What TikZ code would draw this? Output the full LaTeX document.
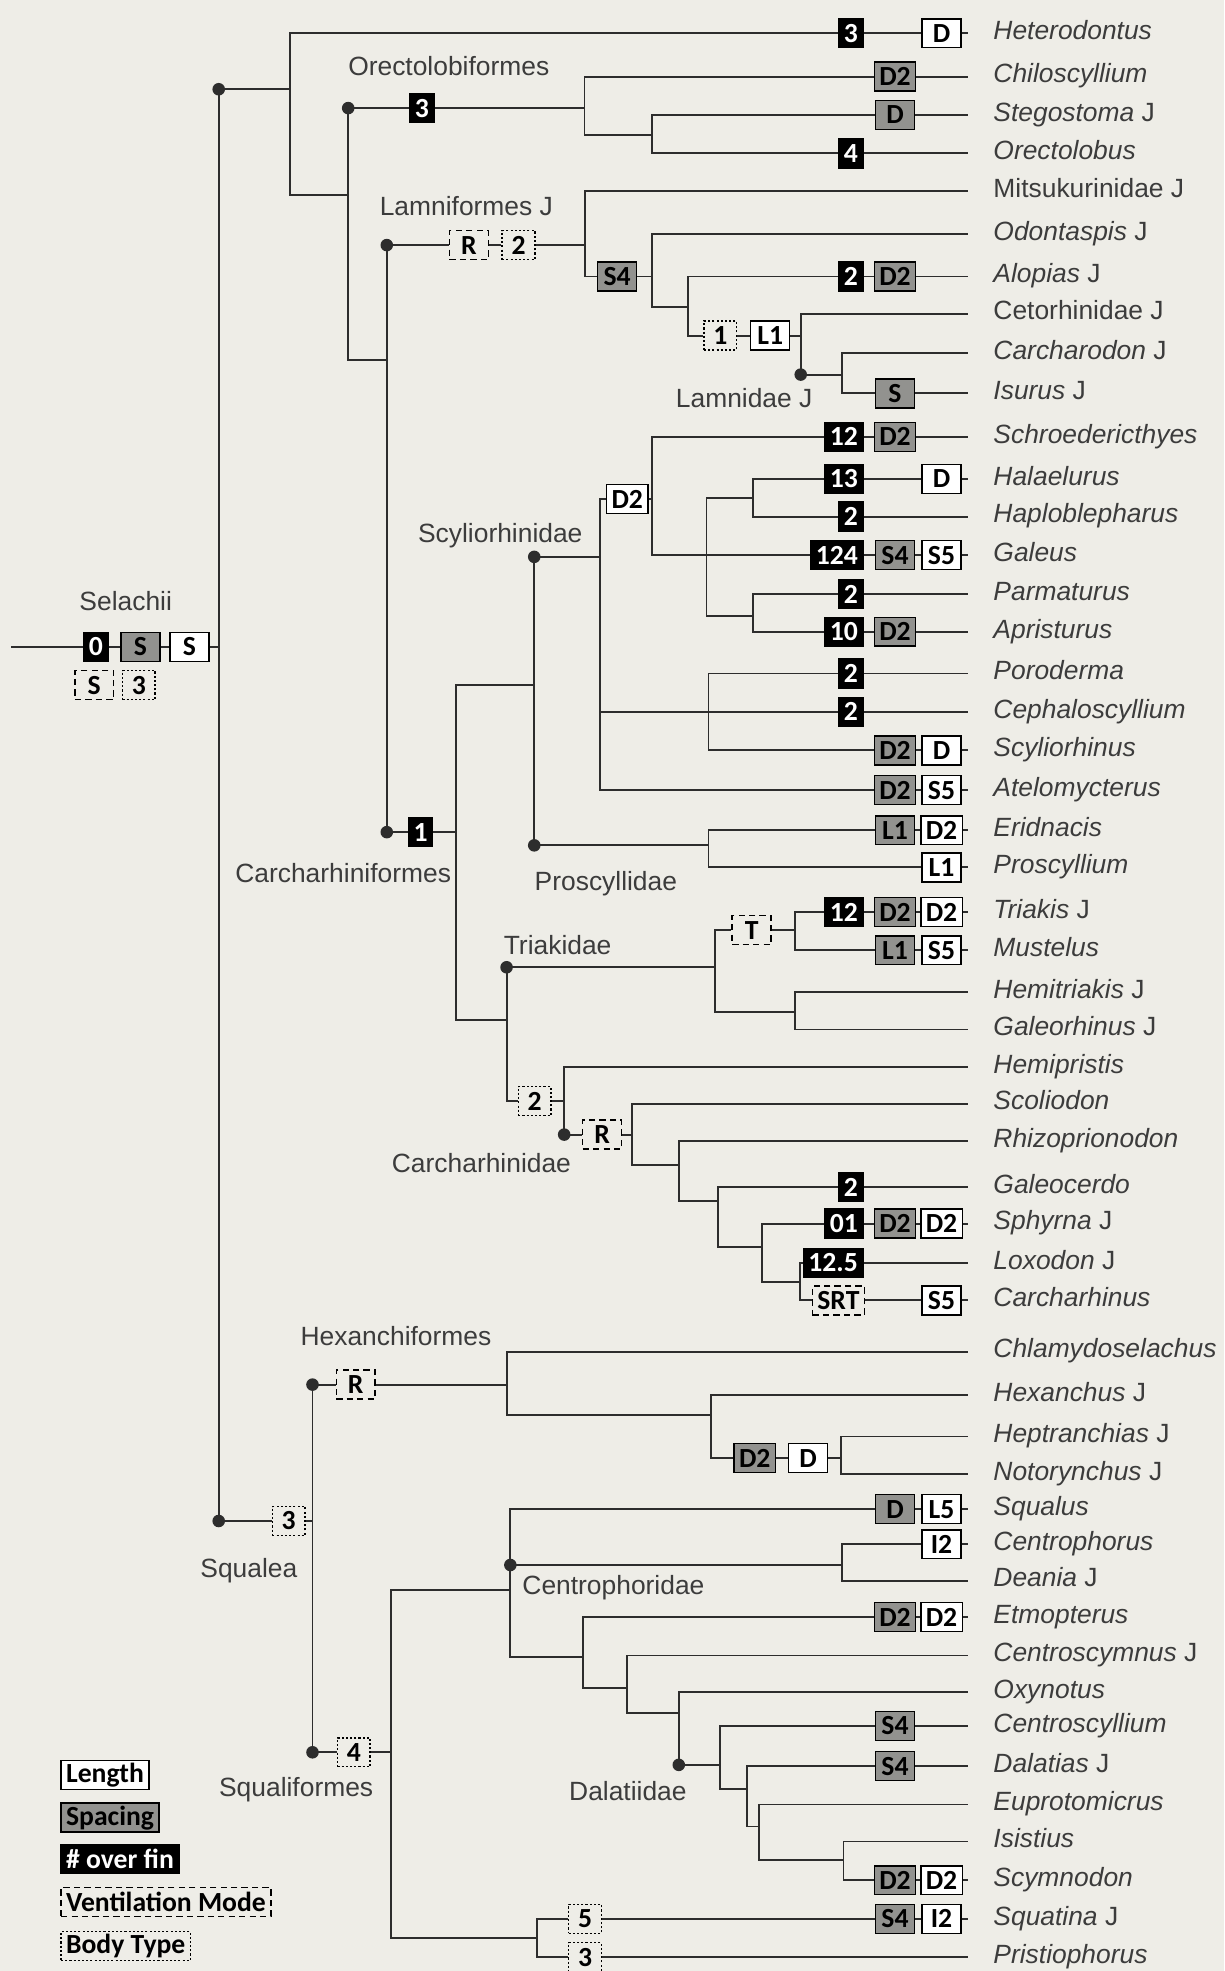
\documentclass[tikz,border=0pt]{standalone}
\usepackage{fontspec}
\setmainfont{Liberation Sans}
\newfontfamily\boxfont{Carlito}
\usepackage{tikz}
\definecolor{bgcol}{RGB}{238,237,231}
\definecolor{linecol}{RGB}{45,45,45}
\definecolor{labcol}{RGB}{60,60,60}
\definecolor{spcgray}{RGB}{146,146,143}

\begin{document}
\begin{tikzpicture}
[x=0.6pt, y=-0.6pt,
branch/.style={draw=linecol, line width=0.9pt},
boxbase/.style={draw=black, line width=0.7pt, inner xsep=2.4pt, inner ysep=0pt, minimum height=13.8pt, font=\fontsize{13.2}{14}\boxfont\bfseries},
lenbox/.style={boxbase, fill=white, minimum width=18.6pt},
spcbox/.style={boxbase, fill=spcgray, minimum width=18.6pt},
finbox/.style={boxbase, fill=black, text=white},
ventbox/.style={boxbase, fill=bgcol, dash pattern=on 3pt off 2pt, minimum width=18.6pt},
bodybox/.style={boxbase, fill=bgcol, dash pattern=on 1pt off 1pt, minimum width=15.6pt},
cladedot/.style={circle, fill=linecol, inner sep=0pt, minimum size=6pt},
tax/.style={anchor=base west, inner sep=0pt, text=labcol, font=\fontsize{12.6}{14}\selectfont},
grp/.style={anchor=base, inner sep=0pt, text=labcol, font=\fontsize{12.6}{14}\selectfont},
]
\useasboundingbox (0,0) rectangle (974,1568);
\fill[bgcol] (0,0) rectangle (974,1568);

% tips
\foreach \n/\y/\lab in {hete/26.5/\textit{Heterodontus}, chil/61/\textit{Chiloscyllium},
  steg/91.5/\textit{Stegostoma} J, orec/122/\textit{Orectolobus}, mits/152/Mitsukurinidae J,
  odon/186.5/\textit{Odontaspis} J, alop/220/\textit{Alopias} J, ceto/249.5/Cetorhinidae J,
  carcd/281/\textit{Carcharodon} J, isur/313/\textit{Isurus} J, schr/347.5/\textit{Schroedericthyes},
  hala/381/\textit{Halaelurus}, hapl/411/\textit{Haploblepharus}, gale/441.6/\textit{Galeus},
  parm/472.5/\textit{Parmaturus}, apri/502.6/\textit{Apristurus}, poro/535.8/\textit{Poroderma},
  ceph/566.3/\textit{Cephaloscyllium}, scyl/597/\textit{Scyliorhinus}, atel/628.6/\textit{Atelomycterus},
  erid/660.5/\textit{Eridnacis}, pros/690/\textit{Proscyllium}, tria/725.5/\textit{Triakis} J,
  must/756/\textit{Mustelus}, hemt/789/\textit{Hemitriakis} J, galr/819/\textit{Galeorhinus} J,
  hemp/849/\textit{Hemipristis}, scol/878/\textit{Scoliodon}, rhiz/907.5/\textit{Rhizoprionodon},
  galc/944.3/\textit{Galeocerdo}, sphy/973.4/\textit{Sphyrna} J, loxo/1004.7/\textit{Loxodon} J,
  carch/1034.5/\textit{Carcharhinus}, chla/1075.3/\textit{Chlamydoselachus}, hexa/1110/\textit{Hexanchus} J,
  hept/1142.8/\textit{Heptranchias} J, noto/1172.4/\textit{Notorynchus} J, squa/1200.6/\textit{Squalus},
  cenp/1228.5/\textit{Centrophorus}, dean/1257.5/\textit{Deania} J, etmo/1286.4/\textit{Etmopterus},
  cens/1317/\textit{Centroscymnus} J, oxyn/1346/\textit{Oxynotus}, cenl/1373/\textit{Centroscyllium},
  dala/1405/\textit{Dalatias} J, eupr/1435.5/\textit{Euprotomicrus}, isis/1465/\textit{Isistius},
  scym/1495.8/\textit{Scymnodon}, squt/1526.5/\textit{Squatina} J, pris/1557/\textit{Pristiophorus}}{
  \coordinate (e-\n) at (770,\y);
  \node[tax] (l-\n) at (790,\y+5) {\lab};
}

% boxes at the tips
\foreach \n/\y/\v in {hete/26.5/3, orec/122/4, alop/220/2, schr/347.5/12, hala/381/13, hapl/411/2,
  gale/441.6/124, parm/472.5/2, apri/502.6/10, poro/535.8/2, ceph/566.3/2, tria/725.5/12,
  galc/944.3/2, sphy/973.4/01, loxo/1004.7/12.5}
  \node[finbox, anchor=east] (\n-f) at (687,\y) {\v};
\foreach \n/\y/\v in {chil/61/D2, steg/91.5/D, alop/220/D2, isur/313/S, schr/347.5/D2, gale/441.6/S4,
  apri/502.6/D2, scyl/597/D2, atel/628.6/D2, erid/660.5/L1, tria/725.5/D2, must/756/L1,
  sphy/973.4/D2, squa/1200.6/D, etmo/1286.4/D2, cenl/1373/S4, dala/1405/S4, scym/1495.8/D2, squt/1526.5/S4}
  \node[spcbox] (\n-s) at (712,\y) {\v};
\foreach \n/\y/\v in {hete/26.5/D, hala/381/D, gale/441.6/S5, scyl/597/D, atel/628.6/S5, erid/660.5/D2,
  pros/690/L1, tria/725.5/D2, must/756/S5, sphy/973.4/D2, carch/1034.5/S5, squa/1200.6/L5,
  cenp/1228.5/I2, etmo/1286.4/D2, scym/1495.8/D2, squt/1526.5/I2}
  \node[lenbox] (\n-l) at (749,\y) {\v};
\node[ventbox] (carch-v) at (667,1034.5) {SRT};
\node[bodybox] (squt-b) at (465.4,1526.5) {5};
\node[bodybox] (pris-b) at (465.4,1557) {3};

% boxes on the inner branches
\node[finbox] (r-f) at (76.3,514.6) {0};
\node[spcbox] (r-s) at (111.7,514.6) {S};
\node[lenbox] (r-l) at (150.6,514.6) {S};
\node[ventbox] (r-v) at (75,545) {S};
\node[bodybox] (r-b) at (110.4,545) {3};
\node[finbox] (or-f) at (335.6,86) {3};
\node[ventbox] (la-v) at (373,195) {R};
\node[bodybox] (la-b) at (412.5,195) {2};
\node[spcbox] (lb-s) at (491,220) {S4};
\node[bodybox] (lm-b) at (573,267) {1};
\node[lenbox] (lm-l) at (612.7,267) {L1};
\node[finbox] (ca-f) at (334.6,662) {1};
\node[lenbox] (sc-l) at (499,397) {D2};
\node[ventbox] (tr-v) at (598,740) {T};
\node[bodybox] (tc-b) at (425.3,876) {2};
\node[ventbox] (cc-v) at (479,902.6) {R};
\node[bodybox] (sq-b) at (229.7,1210) {3};
\node[ventbox] (hx-v) at (283,1101.5) {R};
\node[spcbox] (hn-s) at (600.4,1160) {D2};
\node[lenbox] (hn-l) at (642.9,1160) {D};
\node[bodybox] (sf-b) at (281.5,1394) {4};

% joints of the tree
\coordinate (r-start) at (9,514.6);
\coordinate (v-root) at (174,514.6);
\coordinate (v-A) at (231,71);
\coordinate (v-B) at (277,155);
\coordinate (v-C) at (307.7,286.5);
\coordinate (v-or) at (465,86);
\coordinate (v-so) at (519,107.4);
\coordinate (v-la) at (465.7,195);
\coordinate (v-od) at (518.6,220);
\coordinate (v-al) at (547.5,244);
\coordinate (v-ce) at (637,267);
\coordinate (v-lm) at (669.7,298);
\coordinate (v-ca) at (363,662);
\coordinate (v-sp) at (425,545);
\coordinate (v-sc) at (477.5,443);
\coordinate (v-sd) at (518.6,397);
\coordinate (v-E) at (562,441.6);
\coordinate (v-hh) at (599,396);
\coordinate (v-pa) at (599,490);
\coordinate (v-F) at (563.6,566.3);
\coordinate (v-pr) at (563.6,672.5);
\coordinate (v-tc) at (403,811.6);
\coordinate (v-tr) at (569,769.5);
\coordinate (v-tm) at (632.6,740);
\coordinate (v-hg) at (632.6,805);
\coordinate (v-hc) at (448.8,876);
\coordinate (v-sr) at (502.6,902.6);
\coordinate (v-rz) at (540,927);
\coordinate (v-gc) at (571,955.4);
\coordinate (v-sy) at (606,992);
\coordinate (v-lx) at (636.6,1020);
\coordinate (v-sq) at (248.6,1210);
\coordinate (v-hx) at (403,1101.5);
\coordinate (v-h2) at (565.8,1125.7);
\coordinate (v-hn) at (669,1160);
\coordinate (v-sf) at (311,1394);
\coordinate (v-ct) at (406,1265);
\coordinate (v-cd) at (669.6,1245);
\coordinate (v-et) at (464,1318);
\coordinate (v-cs) at (499,1343);
\coordinate (v-ox) at (540,1363);
\coordinate (v-da) at (573,1404);
\coordinate (v-dl) at (594,1423);
\coordinate (v-eu) at (604,1453);
\coordinate (v-is) at (671,1480);
\coordinate (v-st) at (427,1542);

% root
\draw[branch] (r-start) -- (r-f.west) (r-f.east) -- (r-s.west) (r-s.east) -- (r-l.west) (r-l.east) -- (v-root);
\draw[branch] (v-root) |- (v-A) (v-root) |- (sq-b.west);
% galeomorphs
\draw[branch] (v-A) |- (hete-f.west) (v-A) |- (v-B);
\draw[branch] (v-B) |- (or-f.west) (v-B) |- (v-C);
\draw[branch] (v-C) |- (la-v.west) (v-C) |- (ca-f.west);
\draw[branch] (or-f.east) -- (v-or) (v-or) |- (chil-s.west) (v-or) |- (v-so);
\draw[branch] (v-so) |- (steg-s.west) (v-so) |- (orec-f.west);
\draw[branch] (la-v.east) -- (la-b.west) (la-b.east) -- (v-la);
\draw[branch] (v-la) |- (e-mits) (v-la) |- (lb-s.west) (lb-s.east) -- (v-od);
\draw[branch] (v-od) |- (e-odon) (v-od) |- (v-al);
\draw[branch] (v-al) |- (alop-f.west) (v-al) |- (lm-b.west) (lm-b.east) -- (lm-l.west) (lm-l.east) -- (v-ce);
\draw[branch] (v-ce) |- (e-ceto) (v-ce) |- (v-lm);
\draw[branch] (v-lm) |- (e-carcd) (v-lm) |- (isur-s.west);
\draw[branch] (ca-f.east) -- (v-ca) (v-ca) |- (v-sp) (v-ca) |- (v-tc);
\draw[branch] (v-sp) |- (v-sc) (v-sp) |- (v-pr);
\draw[branch] (v-sc) |- (sc-l.west) (v-sc) |- (ceph-f.west) (v-sc) |- (atel-s.west);
\draw[branch] (sc-l.east) -- (v-sd) (v-sd) |- (schr-f.west) (v-sd) |- (gale-f.west);
\draw[branch] (v-E) |- (v-hh) (v-E) |- (v-pa);
\draw[branch] (v-hh) |- (hala-f.west) (v-hh) |- (hapl-f.west);
\draw[branch] (v-pa) |- (parm-f.west) (v-pa) |- (apri-f.west);
\draw[branch] (v-F) |- (poro-f.west) (v-F) |- (scyl-s.west);
\draw[branch] (v-pr) |- (erid-s.west) (v-pr) |- (pros-l.west);
\draw[branch] (v-tc) |- (v-tr) (v-tc) |- (tc-b.west);
\draw[branch] (v-tr) |- (tr-v.west) (v-tr) |- (v-hg) (tr-v.east) -- (v-tm);
\draw[branch] (v-tm) |- (tria-f.west) (v-tm) |- (must-s.west);
\draw[branch] (v-hg) |- (e-hemt) (v-hg) |- (e-galr);
\draw[branch] (tc-b.east) -- (v-hc) (v-hc) |- (e-hemp) (v-hc) |- (cc-v.west);
\draw[branch] (cc-v.east) -- (v-sr) (v-sr) |- (e-scol) (v-sr) |- (v-rz);
\draw[branch] (v-rz) |- (e-rhiz) (v-rz) |- (v-gc);
\draw[branch] (v-gc) |- (galc-f.west) (v-gc) |- (v-sy);
\draw[branch] (v-sy) |- (sphy-f.west) (v-sy) |- (v-lx);
\draw[branch] (v-lx) |- (loxo-f.west) (v-lx) |- (carch-v.west);
% squalea
\draw[branch] (sq-b.east) -- (v-sq) (v-sq) |- (hx-v.west) (v-sq) |- (sf-b.west);
\draw[branch] (hx-v.east) -- (v-hx) (v-hx) |- (e-chla) (v-hx) |- (v-h2);
\draw[branch] (v-h2) |- (e-hexa) (v-h2) |- (hn-s.west) (hn-s.east) -- (hn-l.west) (hn-l.east) -- (v-hn);
\draw[branch] (v-hn) |- (e-hept) (v-hn) |- (e-noto);
\draw[branch] (sf-b.east) -- (v-sf) (v-sf) |- (v-ct) (v-sf) |- (v-st);
\draw[branch] (v-ct) |- (squa-s.west) (v-ct) |- (v-cd) (v-ct) |- (v-et);
\draw[branch] (v-cd) |- (cenp-l.west) (v-cd) |- (e-dean);
\draw[branch] (v-et) |- (etmo-s.west) (v-et) |- (v-cs);
\draw[branch] (v-cs) |- (e-cens) (v-cs) |- (v-ox);
\draw[branch] (v-ox) |- (e-oxyn) (v-ox) |- (v-da);
\draw[branch] (v-da) |- (cenl-s.west) (v-da) |- (v-dl);
\draw[branch] (v-dl) |- (dala-s.west) (v-dl) |- (v-eu);
\draw[branch] (v-eu) |- (e-eupr) (v-eu) |- (v-is);
\draw[branch] (v-is) |- (e-isis) (v-is) |- (scym-s.west);
\draw[branch] (v-st) |- (squt-b.west) (v-st) |- (pris-b.west);

% from the boxes to the tips
\draw[branch] (hete-f.east) -- (hete-l.west) (hete-l.east) -- (e-hete);
\draw[branch] (chil-s.east) -- (e-chil);
\draw[branch] (steg-s.east) -- (e-steg);
\draw[branch] (orec-f.east) -- (e-orec);
\draw[branch] (alop-f.east) -- (alop-s.west) (alop-s.east) -- (e-alop);
\draw[branch] (isur-s.east) -- (e-isur);
\draw[branch] (schr-f.east) -- (schr-s.west) (schr-s.east) -- (e-schr);
\draw[branch] (hala-f.east) -- (hala-l.west) (hala-l.east) -- (e-hala);
\draw[branch] (hapl-f.east) -- (e-hapl);
\draw[branch] (gale-f.east) -- (gale-s.west) (gale-s.east) -- (gale-l.west) (gale-l.east) -- (e-gale);
\draw[branch] (parm-f.east) -- (e-parm);
\draw[branch] (apri-f.east) -- (apri-s.west) (apri-s.east) -- (e-apri);
\draw[branch] (poro-f.east) -- (e-poro);
\draw[branch] (ceph-f.east) -- (e-ceph);
\draw[branch] (scyl-s.east) -- (scyl-l.west) (scyl-l.east) -- (e-scyl);
\draw[branch] (atel-s.east) -- (atel-l.west) (atel-l.east) -- (e-atel);
\draw[branch] (erid-s.east) -- (erid-l.west) (erid-l.east) -- (e-erid);
\draw[branch] (pros-l.east) -- (e-pros);
\draw[branch] (tria-f.east) -- (tria-s.west) (tria-s.east) -- (tria-l.west) (tria-l.east) -- (e-tria);
\draw[branch] (must-s.east) -- (must-l.west) (must-l.east) -- (e-must);
\draw[branch] (galc-f.east) -- (e-galc);
\draw[branch] (sphy-f.east) -- (sphy-s.west) (sphy-s.east) -- (sphy-l.west) (sphy-l.east) -- (e-sphy);
\draw[branch] (loxo-f.east) -- (e-loxo);
\draw[branch] (carch-v.east) -- (carch-l.west) (carch-l.east) -- (e-carch);
\draw[branch] (squa-s.east) -- (squa-l.west) (squa-l.east) -- (e-squa);
\draw[branch] (cenp-l.east) -- (e-cenp);
\draw[branch] (etmo-s.east) -- (etmo-l.west) (etmo-l.east) -- (e-etmo);
\draw[branch] (cenl-s.east) -- (e-cenl);
\draw[branch] (dala-s.east) -- (e-dala);
\draw[branch] (scym-s.east) -- (scym-l.west) (scym-l.east) -- (e-scym);
\draw[branch] (squt-b.east) -- (squt-s.west) (squt-s.east) -- (squt-l.west) (squt-l.east) -- (e-squt);
\draw[branch] (pris-b.east) -- (e-pris);

% named clades
\node[cladedot] (d-sel) at (174,71) {};
\node[cladedot] (d-sqa) at (174,1210) {};
\node[cladedot] (d-or) at (277,86) {};
\node[cladedot] (d-la) at (307.7,195) {};
\node[cladedot] (d-ca) at (307.7,662) {};
\node[cladedot] (d-lm) at (637,298) {};
\node[cladedot] (d-sc) at (425,443) {};
\node[cladedot] (d-pr) at (425,672.5) {};
\node[cladedot] (d-tr) at (403,769.5) {};
\node[cladedot] (d-cc) at (448.8,902.6) {};
\node[cladedot] (d-hx) at (248.6,1101.5) {};
\node[cladedot] (d-sf) at (248.6,1394) {};
\node[cladedot] (d-ct) at (406,1245) {};
\node[cladedot] (d-da) at (540,1404) {};

\node[grp] (g-sel) at (100,486) {Selachii};
\node[grp] (g-ore) at (357,60) {Orectolobiformes};
\node[grp] (g-lam) at (371,171.5) {Lamniformes J};
\node[grp] (g-lmn) at (592,324) {Lamnidae J};
\node[grp] (g-scy) at (398,431.4) {Scyliorhinidae};
\node[grp] (g-car) at (273,702) {Carcharhiniformes};
\node[grp] (g-pro) at (482,708.6) {Proscyllidae};
\node[grp] (g-tri) at (443.6,759) {Triakidae};
\node[grp] (g-cch) at (383,932.7) {Carcharhinidae};
\node[grp] (g-hex) at (315,1070.4) {Hexanchiformes};
\node[grp] (g-sqa) at (198,1255.3) {Squalea};
\node[grp] (g-sqf) at (235.6,1429) {Squaliformes};
\node[grp] (g-cen) at (488,1268.7) {Centrophoridae};
\node[grp] (g-dal) at (499.5,1432) {Dalatiidae};

% key
\node[lenbox, anchor=west] (k-len) at (48,1412) {Length};
\node[spcbox, anchor=west] (k-spc) at (48,1446) {Spacing};
\node[finbox, anchor=west] (k-fin) at (48,1479) {\# over fin};
\node[ventbox, anchor=west] (k-vent) at (48,1513) {Ventilation Mode};
\node[bodybox, anchor=west] (k-body) at (48,1548) {Body Type};
\end{tikzpicture}
\end{document}
